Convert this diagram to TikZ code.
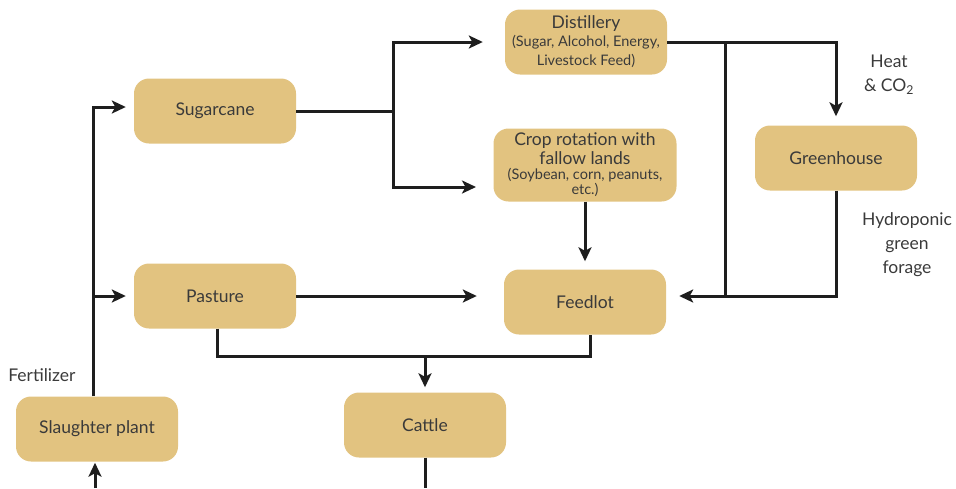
\documentclass[tikz,border=0pt]{standalone}
\usepackage{fontspec}
\setmainfont{Lato}
\usetikzlibrary{arrows.meta,calc}
\definecolor{boxfill}{HTML}{E2C380}
\definecolor{txt}{HTML}{3A3A3A}
\definecolor{ln}{HTML}{1E1E1E}
\newcommand{\subf}{\fontsize{14.5}{17}\selectfont}
\tikzset{
  box/.style={draw=none,fill=boxfill,rounded corners=15pt,minimum width=162pt,minimum height=65pt,
    text=txt,font=\fontsize{17.5}{19}\selectfont,align=center,inner sep=2pt},
  conn/.style={draw=ln,line width=3pt},
  arr/.style={conn,-{Stealth[length=14pt,width=13pt,inset=3.5pt]}},
  lbl/.style={text=txt,font=\fontsize{17.5}{24}\selectfont,align=center}
}
\begin{document}
\begin{tikzpicture}[x=1pt,y=-1pt]
\useasboundingbox (0,0) rectangle (956,488);
\node[box] (dist) at (586,42) {Distillery\\[-1pt]\subf (Sugar, Alcohol, Energy,\\ \subf Livestock Feed)};
\node[box,minimum width=183pt,minimum height=73pt] (crop) at (585,165) {Crop rotation with\\fallow lands\\[-4pt]\subf (Soybean, corn, peanuts,\\[-4pt] \subf etc.)};
\node[box] (sug) at (215,111) {Sugarcane};
\node[box] (gh) at (836,158) {Greenhouse};
\node[box] (past) at (215,296) {Pasture};
\node[box] (feed) at (585,302) {Feedlot};
\node[box] (sl) at (97,429) {Slaughter plant};
\node[box] (cat) at (425,425) {Cattle};

\node[lbl,anchor=east] (fert) at (79,375) {Fertilizer};
\node[lbl] (heat) at (889,75) {Heat\\\& CO\textsubscript{2}};
\node[lbl] (hydro) at (907,245) {Hydroponic\\green\\forage};

\coordinate (j1) at (393,111);
\coordinate (cropin) at (476,187);
\coordinate (j2) at (725,42);
\coordinate (j3) at (725,296);
\coordinate (j4) at (217,356);
\coordinate (j5) at (425,356);
\coordinate (j6) at (93,296);
\coordinate (bot1) at (95,488);
\coordinate (bot2) at (425,488);

\draw[conn] (sug.east) -- (j1);
\draw[arr,shorten >=22pt] (j1) |- (dist.west);
\draw[arr] (j1) |- (cropin);
\draw[arr,shorten >=9pt] (dist.east) -| (gh.north);
\draw[conn] (j2) -- (j3);
\draw[arr,shorten >=13pt] (gh.south) |- ([yshift=6pt]feed.east);
\draw[arr,shorten >=8pt] (crop.south) -- (feed.north);
\draw[arr,shorten >=27pt] (past.east) -- ([yshift=6pt]feed.west);
\draw[conn] ([xshift=2pt]past.south) -- (j4) -| ([xshift=5pt]feed.south);
\draw[arr,shorten >=5pt] (j5) -- (cat.north);
\draw[conn] (cat.south) -- (bot2);
\draw[arr,shorten >=8pt] ([xshift=-4pt]sl.north) |- ([yshift=4pt]sug.west);
\draw[arr,shorten >=8pt] (j6) -- (past.west);
\draw[arr,shorten >=1pt] (bot1) -- ([xshift=-2pt]sl.south);
\end{tikzpicture}
\end{document}
